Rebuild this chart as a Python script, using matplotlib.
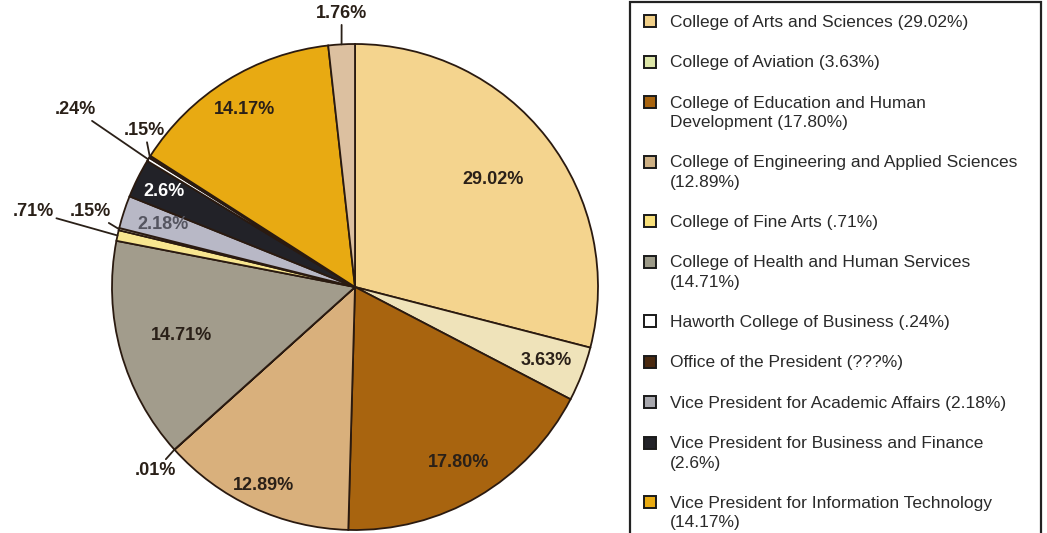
import numpy as np
import matplotlib
matplotlib.use('Agg')
import matplotlib.pyplot as plt
from matplotlib.patches import Rectangle

plt.rcParams['font.family'] = ['Liberation Sans', 'DejaVu Sans']

# Slices, clockwise from 12 o'clock
values = [29.02, 3.63, 17.80, 12.89, 0.01, 14.71, 0.71, 0.15, 2.18, 2.6, 0.24, 0.15, 14.17, 1.76]
labels = ['29.02%', '3.63%', '17.80%', '12.89%', '.01%', '14.71%', '.71%', '.15%',
          '2.18%', '2.6%', '.24%', '.15%', '14.17%', '1.76%']
colors = ['#F4D48E', '#EFE3BA', '#A8640F', '#D9B07C', '#B8C6CC', '#A29C8C', '#F8E690',
          '#E4DDC4', '#B8B8C6', '#222228', '#FFFFFF', '#4A2A10', '#E8AA12', '#DCC0A0']

# inside labels: radius factor and text colour (None -> outside label)
inside_r = [0.72, 0.845, 0.84, 0.90, None, 0.74, None, None, 0.83, 0.88, None, None, 0.86, None]
inside_col = ['#2a2018', '#2a2018', '#2a2018', '#2a2018', None, '#2a2018', None, None,
              '#555560', 'white', None, None, '#2a2018', None]
# outside labels: text position in data units
outside_pos = {4: (-0.82, -0.755), 6: (-1.325, 0.31), 7: (-1.09, 0.31),
               10: (-1.15, 0.73), 11: (-0.865, 0.642), 13: (-0.055, 1.125)}

legend_labels = [
    'College of Arts and Sciences (29.02%)',
    'College of Aviation (3.63%)',
    'College of Education and Human\nDevelopment (17.80%)',
    'College of Engineering and Applied Sciences\n(12.89%)',
    'College of Fine Arts (.71%)',
    'College of Health and Human Services\n(14.71%)',
    'Haworth College of Business (.24%)',
    'Office of the President (???%)',
    'Vice President for Academic Affairs (2.18%)',
    'Vice President for Business and Finance\n(2.6%)',
    'Vice President for Information Technology\n(14.17%)',
]
legend_colors = ['#F0CF88', '#DDE6A8', '#A8640F', '#CDB084', '#F8E07A', '#9C9A88',
                 '#FFFFFF', '#4A2A10', '#A8A8AE', '#222228', '#E8AA12']

W, H = 1047, 533
fig = plt.figure(figsize=(W / 100, H / 100), dpi=100)

cx, cy, R = 355, 287, 243
ax = fig.add_axes([(cx - R) / W, (H - cy - R) / H, 2 * R / W, 2 * R / H])
wedges, _ = ax.pie(values, colors=colors, startangle=90, counterclock=False, radius=1,
                   wedgeprops=dict(edgecolor='#2a1a10', linewidth=1.3))
ax.set_xlim(-1, 1)
ax.set_ylim(-1, 1)
ax.set_aspect('equal')
ax.axis('off')

for i, w in enumerate(wedges):
    mid = np.deg2rad((w.theta1 + w.theta2) / 2)
    if inside_r[i] is not None:
        r = inside_r[i]
        ax.text(r * np.cos(mid), r * np.sin(mid), labels[i], ha='center', va='center',
                fontsize=13, fontweight='bold', color=inside_col[i])
    else:
        tx, ty = outside_pos[i]
        ax.annotate(labels[i], xy=(np.cos(mid), np.sin(mid)), xytext=(tx, ty),
                    ha='center', va='center', fontsize=13, fontweight='bold',
                    color='#2a2018', annotation_clip=False,
                    arrowprops=dict(arrowstyle='-', color='#2a2018', lw=1.3,
                                    shrinkA=0, shrinkB=0))

# legend box, runs off the bottom of the picture
box = Rectangle((630 / W, -0.05), (1041 - 630) / W, (H - 2) / H + 0.05,
                transform=fig.transFigure, facecolor='white', edgecolor='#222222',
                linewidth=1.6)
fig.add_artist(box)

y = 21
for lab, col in zip(legend_labels, legend_colors):
    fig.add_artist(Rectangle((644 / W, 1 - (y + 6) / H), 12 / W, 12 / H,
                             transform=fig.transFigure, facecolor=col,
                             edgecolor='#1a1a1a', linewidth=1.4))
    fig.text(670 / W, 1 - (y - 6) / H, lab, ha='left', va='top', fontsize=12.5,
             color='#2a2a2a', linespacing=1.35)
    y += 40.5 + 19 * lab.count('\n')

fig.savefig('out.png', dpi=100)
